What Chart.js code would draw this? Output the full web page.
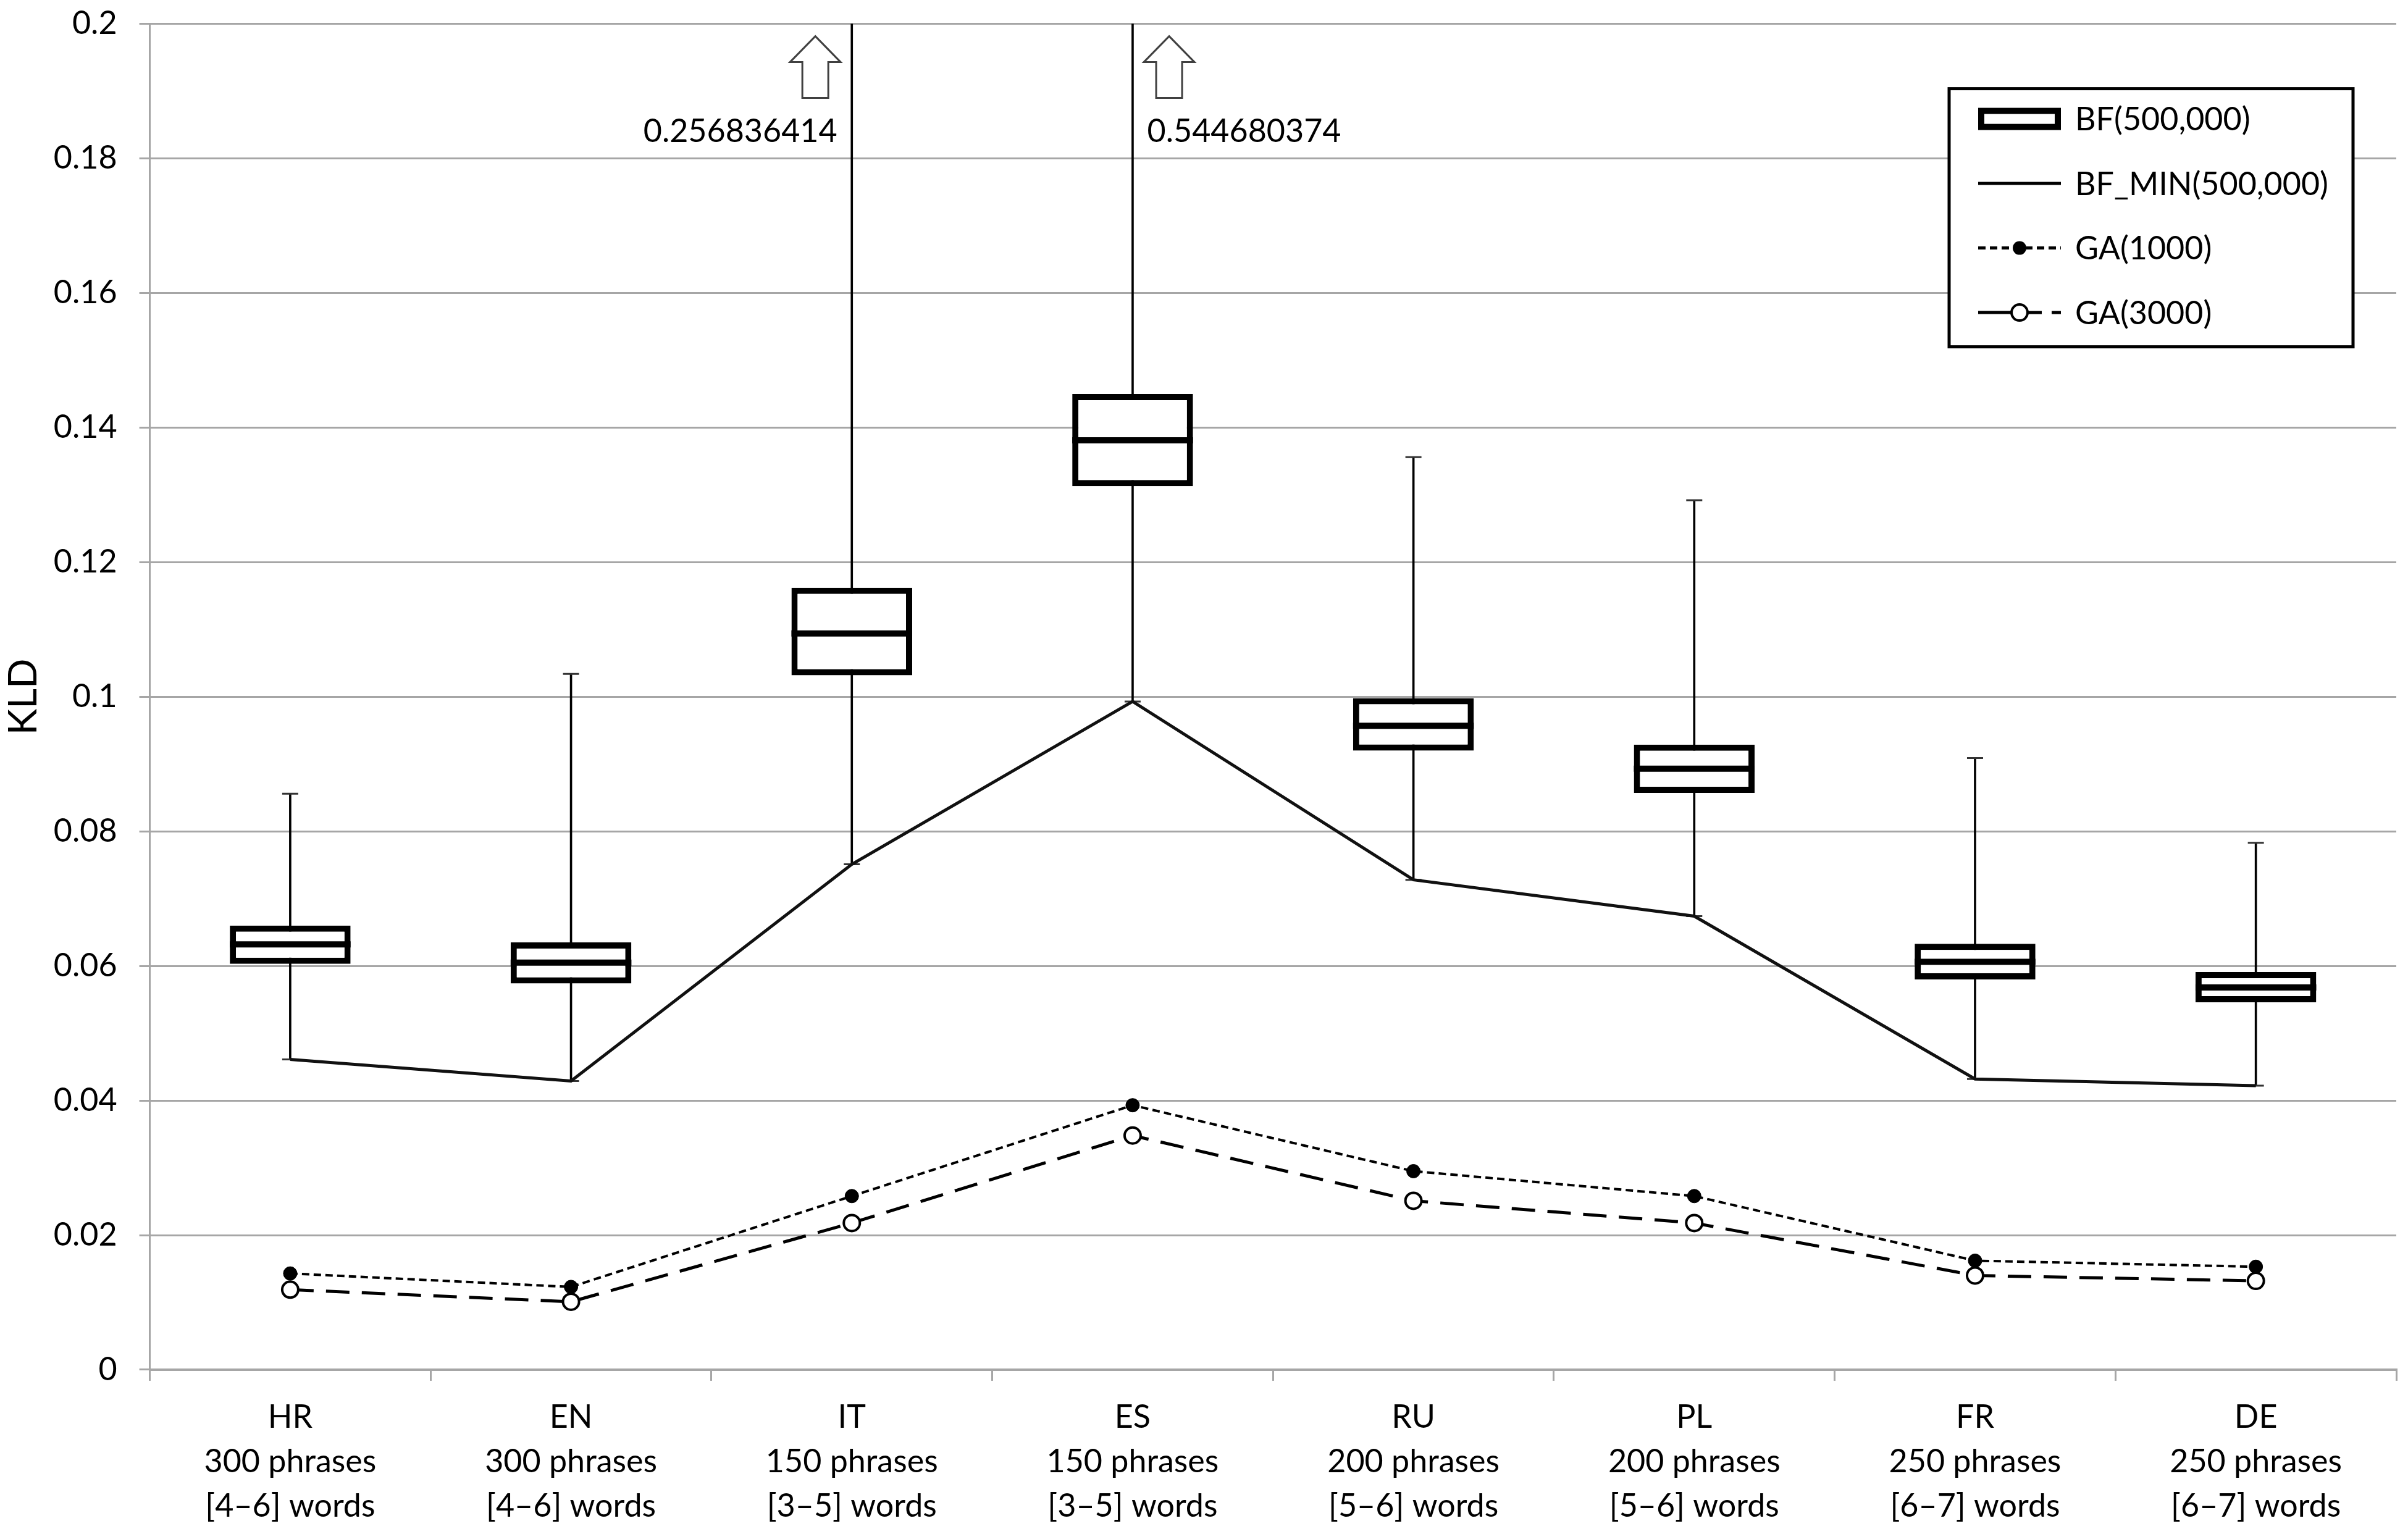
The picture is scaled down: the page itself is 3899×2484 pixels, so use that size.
<!DOCTYPE html>
<html>
<head>
<meta charset="utf-8">
<script src="https://cdn.jsdelivr.net/npm/chart.js@4/dist/chart.umd.min.js"></script>
<style>
  html, body { margin: 0; padding: 0; background: #fff; }
  #wrap { width: 3899px; height: 2484px; }
</style>
</head>
<body>
<div id="wrap"><canvas id="kld"></canvas></div>
<script>
const categories = [
  ['HR', '300 phrases', '[4\u20136] words'],
  ['EN', '300 phrases', '[4\u20136] words'],
  ['IT', '150 phrases', '[3\u20135] words'],
  ['ES', '150 phrases', '[3\u20135] words'],
  ['RU', '200 phrases', '[5\u20136] words'],
  ['PL', '200 phrases', '[5\u20136] words'],
  ['FR', '250 phrases', '[6\u20137] words'],
  ['DE', '250 phrases', '[6\u20137] words']
];
// BF(500,000) box values
const bfMax    = [0.0856, 0.1034, 0.256836414, 0.544680374, 0.1356, 0.1292, 0.0909, 0.0783];
const bfQ3     = [0.0660, 0.0635, 0.1162, 0.1450, 0.0998, 0.0929, 0.0633, 0.0591];
const bfMedian = [0.0632, 0.0605, 0.1094, 0.1381, 0.0957, 0.0893, 0.0606, 0.0568];
const bfQ1     = [0.0603, 0.0574, 0.1032, 0.1313, 0.0920, 0.0857, 0.0580, 0.0546];
const bfMin    = [0.0461, 0.0429, 0.0751, 0.0993, 0.0728, 0.0674, 0.0432, 0.0422];
const ga1000   = [0.0143, 0.0123, 0.0258, 0.0393, 0.0295, 0.0258, 0.0162, 0.0153];
const ga3000   = [0.0119, 0.0101, 0.0218, 0.0348, 0.0251, 0.0218, 0.0140, 0.0132];
const overflowSide = [0, 0, -1, 1, 0, 0, 0, 0];
const yTicks = [0, 0.02, 0.04, 0.06, 0.08, 0.1, 0.12, 0.14, 0.16, 0.18, 0.2];

const FONT = 'Lato, "Open Sans", sans-serif';
const GRID = '#a6a6a6';
const BOX_FRACTION = 0.43;

function categoryStep(chart) {
  const x = chart.scales.x;
  return x ? x.getPixelForValue(1) - x.getPixelForValue(0) : 0;
}

// arrows and values for whiskers that leave the plot
const overflowPlugin = {
  id: 'overflow',
  afterDatasetsDraw(chart) {
    const {ctx, chartArea, scales: {x, y}} = chart;
    const step = categoryStep(chart);
    ctx.save();
    bfMax.forEach((v, i) => {
      if (v <= y.max) return;
      const side = overflowSide[i];
      const cx = x.getPixelForValue(i);
      const ax = cx + side * step * 0.13;
      const top = chartArea.top + 20;
      const w = 41, sw = 21, hh = 42, h = 100;
      ctx.beginPath();
      ctx.moveTo(ax, top);
      ctx.lineTo(ax + w, top + hh);
      ctx.lineTo(ax + sw, top + hh);
      ctx.lineTo(ax + sw, top + h);
      ctx.lineTo(ax - sw, top + h);
      ctx.lineTo(ax - sw, top + hh);
      ctx.lineTo(ax - w, top + hh);
      ctx.closePath();
      ctx.fillStyle = '#fff';
      ctx.fill();
      ctx.strokeStyle = '#404040';
      ctx.lineWidth = 3;
      ctx.stroke();
      ctx.fillStyle = '#000';
      ctx.font = '52px ' + FONT;
      ctx.textBaseline = 'middle';
      ctx.textAlign = side < 0 ? 'right' : 'left';
      ctx.fillText(String(v), cx + side * step * 0.052, chartArea.top + 175);
    });
    ctx.restore();
  }
};

// boxed legend in the top right corner
const legendPlugin = {
  id: 'boxLegend',
  afterDraw(chart) {
    const {ctx, chartArea} = chart;
    const left = chartArea.right - 724, top = chartArea.top + 105;
    const bw = 654, bh = 418;
    ctx.save();
    ctx.fillStyle = '#fff';
    ctx.fillRect(left, top, bw, bh);
    ctx.strokeStyle = '#000';
    ctx.lineWidth = 5;
    ctx.strokeRect(left, top, bw, bh);
    const names = ['BF(500,000)', 'BF_MIN(500,000)', 'GA(1000)', 'GA(3000)'];
    const sx = left + 47, ex = left + 181, mx = (sx + ex) / 2;
    names.forEach((name, k) => {
      const yy = top + 49 + k * 104.5;
      ctx.setLineDash([]);
      ctx.strokeStyle = '#000';
      if (k === 0) {
        ctx.lineWidth = 10;
        ctx.fillStyle = '#fff';
        ctx.fillRect(sx + 5, yy - 13, ex - sx - 10, 26);
        ctx.strokeRect(sx + 5, yy - 13, ex - sx - 10, 26);
      } else if (k === 1) {
        ctx.lineWidth = 5;
        ctx.beginPath(); ctx.moveTo(sx, yy); ctx.lineTo(ex, yy); ctx.stroke();
      } else if (k === 2) {
        ctx.lineWidth = 5;
        ctx.setLineDash([12, 7]);
        ctx.beginPath(); ctx.moveTo(sx, yy); ctx.lineTo(ex, yy); ctx.stroke();
        ctx.setLineDash([]);
        ctx.fillStyle = '#000';
        ctx.beginPath(); ctx.arc(mx, yy, 11, 0, Math.PI * 2); ctx.fill();
      } else {
        ctx.lineWidth = 5;
        ctx.beginPath(); ctx.moveTo(sx, yy); ctx.lineTo(mx - 14, yy); ctx.stroke();
        ctx.beginPath(); ctx.moveTo(mx + 14, yy); ctx.lineTo(mx + 36, yy); ctx.stroke();
        ctx.beginPath(); ctx.moveTo(mx + 52, yy); ctx.lineTo(ex, yy); ctx.stroke();
        ctx.fillStyle = '#fff';
        ctx.lineWidth = 4;
        ctx.beginPath(); ctx.arc(mx, yy, 13, 0, Math.PI * 2); ctx.fill(); ctx.stroke();
      }
      ctx.fillStyle = '#000';
      ctx.font = '52px ' + FONT;
      ctx.textAlign = 'left';
      ctx.textBaseline = 'middle';
      ctx.fillText(name, left + 204, yy + 2);
    });
    ctx.restore();
  }
};

const ctx = document.getElementById('kld').getContext('2d');
new Chart(ctx, {
  type: 'bar',
  data: {
    labels: categories,
    datasets: [
      {
        label: 'whisker',
        data: bfMin.map((m, i) => [m, bfMax[i]]),
        backgroundColor: '#000',
        barThickness: 3,
        grouped: false,
        order: 6
      },
      {
        label: 'BF(500,000)',
        data: bfQ1.map((q, i) => [q, bfQ3[i]]),
        backgroundColor: '#fff',
        borderColor: '#000',
        borderWidth: 10,
        borderSkipped: false,
        barPercentage: BOX_FRACTION,
        categoryPercentage: 1,
        grouped: false,
        order: 5
      },
      {
        type: 'line',
        label: 'median',
        data: bfMedian,
        showLine: false,
        pointStyle: 'line',
        pointRadius: c => categoryStep(c.chart) * BOX_FRACTION / 2,
        pointBorderWidth: 10,
        pointBorderColor: '#000',
        order: 4
      },
      {
        type: 'line',
        label: 'cap max',
        data: bfMax,
        showLine: false,
        pointStyle: 'line',
        pointRadius: 13,
        pointBorderWidth: 3,
        pointBorderColor: '#333',
        order: 4
      },
      {
        type: 'line',
        label: 'cap min',
        data: bfMin,
        showLine: false,
        pointStyle: 'line',
        pointRadius: 13,
        pointBorderWidth: 3,
        pointBorderColor: '#333',
        order: 4
      },
      {
        type: 'line',
        label: 'BF_MIN(500,000)',
        data: bfMin,
        borderColor: '#111',
        borderWidth: 5,
        pointRadius: 0,
        tension: 0,
        order: 3
      },
      {
        type: 'line',
        label: 'GA(1000)',
        data: ga1000,
        borderColor: '#000',
        borderWidth: 4,
        borderDash: [12, 7],
        pointRadius: 11,
        pointBackgroundColor: '#000',
        pointBorderColor: '#000',
        pointBorderWidth: 1,
        tension: 0,
        order: 2
      },
      {
        type: 'line',
        label: 'GA(3000)',
        data: ga3000,
        borderColor: '#000',
        borderWidth: 5,
        borderDash: [38, 20],
        pointRadius: 13,
        pointBackgroundColor: '#fff',
        pointBorderColor: '#000',
        pointBorderWidth: 4,
        tension: 0,
        order: 1
      }
    ]
  },
  options: {
    responsive: true,
    maintainAspectRatio: false,
    animation: false,
    layout: { autoPadding: false, padding: { left: 0, right: 19, top: 0, bottom: -14 } },
    plugins: {
      legend: { display: false },
      tooltip: { enabled: false }
    },
    scales: {
      x: {
        offset: true,
        grid: {
          offset: true,
          drawOnChartArea: false,
          drawTicks: true,
          tickLength: 18,
          color: GRID,
          lineWidth: 3
        },
        border: { color: GRID, width: 4 },
        ticks: {
          color: '#000',
          padding: 23,
          maxRotation: 0,
          autoSkip: false,
          font: { family: FONT, size: 52, lineHeight: 1.385 }
        }
      },
      y: {
        min: 0,
        max: 0.2,
        afterBuildTicks(axis) { axis.ticks = yTicks.map(v => ({ value: v })); },
        grid: { color: GRID, lineWidth: 3, tickLength: 17 },
        border: { color: GRID, width: 3 },
        ticks: {
          color: '#000',
          padding: 36,
          font: { family: FONT, size: 52, lineHeight: 0.1 },
          callback: v => String(parseFloat(Number(v).toFixed(2)))
        },
        title: {
          display: true,
          text: 'KLD',
          color: '#000',
          padding: { top: 0, bottom: -26 },
          font: { family: FONT, size: 64 }
        }
      }
    }
  },
  plugins: [overflowPlugin, legendPlugin]
});
</script>
</body>
</html>
